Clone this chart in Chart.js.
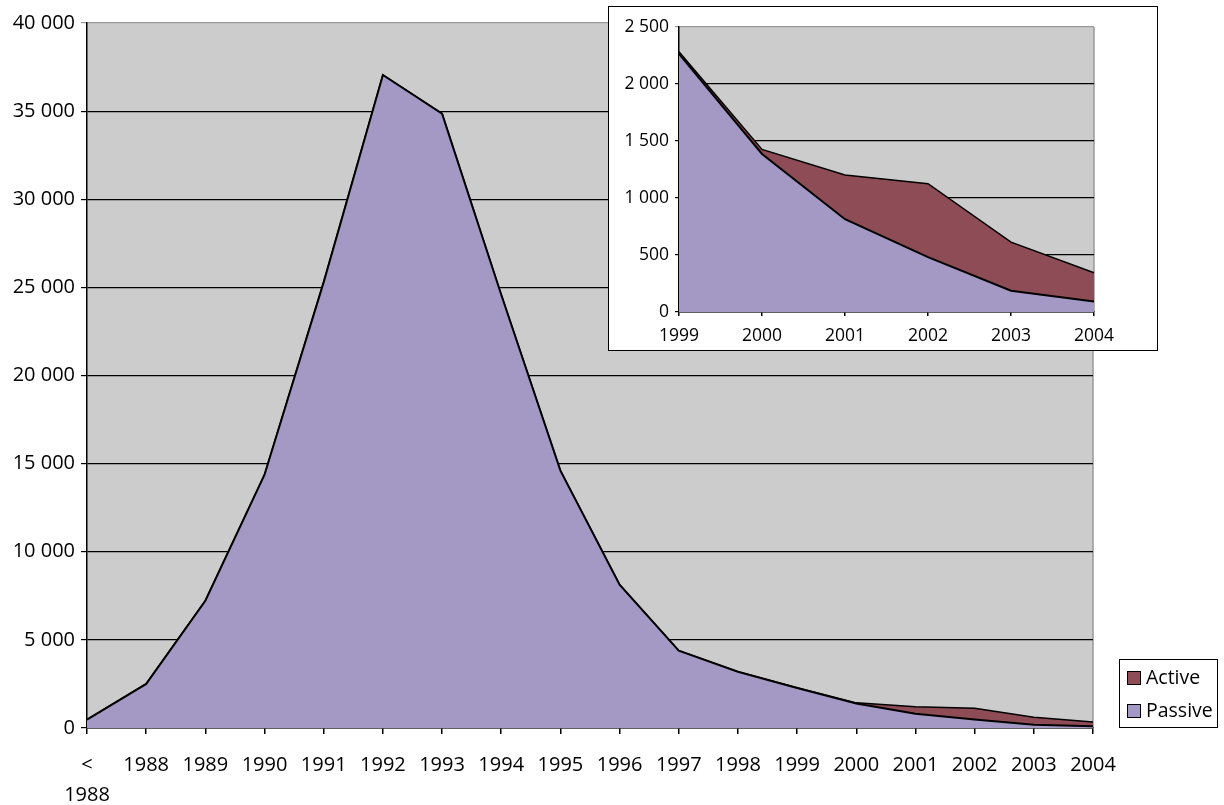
<!DOCTYPE html>
<html>
<head>
<meta charset="utf-8">
<script src="https://cdn.jsdelivr.net/npm/chart.js@4.4.1/dist/chart.umd.min.js"></script>
<style>
  body { margin: 0; background: #fff; }
  #wrap { position: relative; width: 1224px; height: 805px; }
  #main { display: block; }
  #inset { position: absolute; left: 608px; top: 6px; width: 550px; height: 345px;
           border: 1px solid #000; box-sizing: border-box; background: #fff; }
  #zoom { display: block; }
</style>
</head>
<body>
<div id="wrap">
  <canvas id="main" width="1224" height="805"></canvas>
  <div id="inset"><canvas id="zoom" width="548" height="343"></canvas></div>
</div>
<script>
// categories
const years = [['<', '1988'], '1988', '1989', '1990', '1991', '1992', '1993', '1994', '1995',
  '1996', '1997', '1998', '1999', '2000', '2001', '2002', '2003', '2004'];
const insetYears = ['1999', '2000', '2001', '2002', '2003', '2004'];

// series
const passive = [470, 2500, 7220, 14370, 25300, 37050, 34850, 24580, 14600, 8130, 4390, 3190,
  2265, 1386, 814, 481, 187, 93];
const active = [0, 0, 0, 0, 0, 0, 0, 0, 0, 0, 0, 0, 18, 40, 388, 645, 426, 251];

const insetPassive = [2265, 1386, 814, 481, 187, 93];
const insetActive = [18, 40, 388, 645, 426, 251];

const PASSIVE_COL = '#a498c4';
const ACTIVE_COL = '#8e4c57';
const FONT = 'Open Sans';

function fmt(v) {
  return String(v).replace(/\B(?=(\d{3})+(?!\d))/g, ' ');
}

// grey plot area + grey right border
const plotBg = {
  id: 'plotBg',
  beforeDraw(chart) {
    const { ctx, chartArea: a } = chart;
    ctx.save();
    ctx.fillStyle = '#cccccc';
    ctx.fillRect(a.left, a.top, a.right - a.left, a.bottom - a.top);
    ctx.strokeStyle = '#999999';
    ctx.lineWidth = 1.5;
    ctx.beginPath();
    ctx.moveTo(a.right, a.top);
    ctx.lineTo(a.right, a.bottom);
    ctx.stroke();
    ctx.restore();
  }
};

// boxed legend at bottom right
const boxLegend = {
  id: 'boxLegend',
  afterDraw(chart) {
    const ctx = chart.ctx;
    const ds = chart.data.datasets.slice().reverse();
    ctx.save();
    ctx.strokeStyle = '#000';
    ctx.lineWidth = 1;
    ctx.strokeRect(1119.5, 659.5, 98, 68);
    ctx.font = '19.5px "' + FONT + '"';
    ctx.textBaseline = 'middle';
    ds.forEach(function (d, i) {
      const y = 678 + i * 33;
      ctx.fillStyle = d.backgroundColor;
      ctx.fillRect(1127.5, y - 6.5, 13, 13);
      ctx.strokeRect(1127.5, y - 6.5, 13, 13);
      ctx.fillStyle = '#000';
      ctx.fillText(d.label, 1146, y);
    });
    ctx.restore();
  }
};

function makeChart(id, labels, pas, act, opt) {
  return new Chart(document.getElementById(id), {
    type: 'line',
    data: {
      labels: labels,
      datasets: [{
        label: 'Passive',
        data: pas,
        backgroundColor: PASSIVE_COL,
        borderColor: '#000',
        borderWidth: 2,
        pointRadius: 0,
        fill: 'origin',
        tension: 0
      }, {
        label: 'Active',
        data: act,
        backgroundColor: ACTIVE_COL,
        borderColor: '#000',
        borderWidth: 1.5,
        pointRadius: 0,
        fill: '-1',
        tension: 0
      }]
    },
    options: {
      responsive: false,
      animation: false,
      layout: { padding: opt.padding },
      plugins: { legend: { display: false }, tooltip: { enabled: false } },
      scales: {
        x: {
          offset: false,
          afterFit: function (s) { s.height = opt.xHeight; },
          grid: { drawOnChartArea: false, drawTicks: true, tickLength: opt.tick, color: '#000', lineWidth: 1.5 },
          border: { display: true, color: '#000', width: 1.5 },
          ticks: {
            color: '#000', maxRotation: 0, autoSkip: false, padding: opt.xPad,
            font: { family: FONT, size: opt.fontSize, lineHeight: opt.lineHeight }
          }
        },
        y: {
          stacked: true,
          min: 0,
          max: opt.max,
          afterFit: function (s) { s.width = opt.yWidth; },
          grid: {
            color: function (c) { return c.tick && c.tick.value === opt.max ? '#999999' : '#000'; },
            lineWidth: 1.2,
            tickLength: opt.tick
          },
          border: { display: true, color: '#000', width: 1.5 },
          ticks: {
            stepSize: opt.step, color: '#000', padding: 6,
            font: { family: FONT, size: opt.fontSize },
            callback: function (v) { return fmt(v); }
          }
        }
      }
    },
    plugins: opt.plugins
  });
}

makeChart('main', years, passive, active, {
  padding: { top: 23, right: 131, left: 0, bottom: 0 },
  xHeight: 77, yWidth: 87, tick: 6, xPad: 16, fontSize: 20, lineHeight: 1.5,
  max: 40000, step: 5000,
  plugins: [plotBg, boxLegend]
});

makeChart('zoom', insetYears, insetPassive, insetActive, {
  padding: { top: 20, right: 63, left: 0, bottom: 0 },
  xHeight: 38, yWidth: 70, tick: 4, xPad: 10, fontSize: 17.5, lineHeight: 1.2,
  max: 2500, step: 500,
  plugins: [plotBg]
});
</script>
</body>
</html>
